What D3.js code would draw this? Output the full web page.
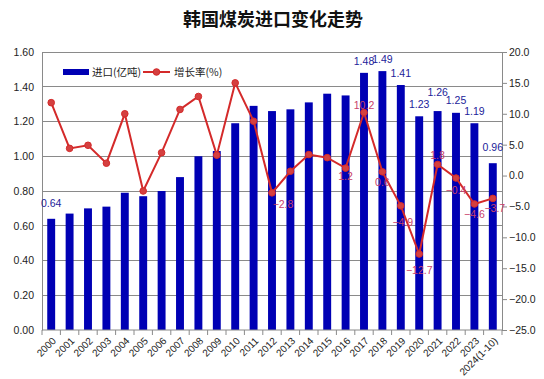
<!DOCTYPE html>
<html><head><meta charset="utf-8">
<script src="https://cdn.jsdelivr.net/npm/d3@7"></script>
<style>body{margin:0;background:#fff}svg{display:block}</style>
</head><body>
<script>
const categories = ["2000","2001","2002","2003","2004","2005","2006","2007","2008","2009","2010","2011","2012","2013","2014","2015","2016","2017","2018","2019","2020","2021","2022","2023","2024(1-10)"];
const imports = [0.64,0.67,0.70,0.71,0.79,0.77,0.80,0.88,1.00,1.03,1.19,1.29,1.26,1.27,1.31,1.36,1.35,1.48,1.49,1.41,1.23,1.26,1.25,1.19,0.96];
const growth = [11.8,4.4,4.9,2.0,10.0,-2.5,3.7,10.7,12.8,3.3,15.0,8.8,-2.8,0.7,3.4,2.9,1.2,10.2,0.6,-4.9,-12.7,1.8,-0.4,-4.6,-3.7];
const leftTicks = [0,0.2,0.4,0.6,0.8,1.0,1.2,1.4,1.6];
const rightTicks = [-25,-20,-15,-10,-5,0,5,10,15,20];
const barLabelIdx = [0,17,18,19,20,21,22,23,24];
const lineLabelIdx = [12,16,17,18,19,20,21,22,23,24];
const seriesNames = ["进口(亿吨)","增长率(%)"];
const title = "韩国煤炭进口变化走势";

const W=544,H=379, L=42,R=502,T=52,B=330;
const barColor="#0000b4", lineColor="#d42a2a";
const svg=d3.select("body").append("svg").attr("width",W).attr("height",H);
const font="Liberation Sans, Arial, sans-serif";
const cjk="'Noto Sans CJK SC', sans-serif";

const x=d3.scaleBand().domain(categories).range([L,R]).padding(0);
const yL=d3.scaleLinear().domain([0,1.6]).range([B,T]);
const yR=d3.scaleLinear().domain([-25,20]).range([B,T]);

// title
svg.append("text").attr("x",273).attr("y",26).attr("text-anchor","middle")
  .attr("font-family",cjk).attr("font-weight","bold").attr("font-size",18).attr("fill","#111").text(title);

// gridlines
svg.append("g").selectAll("line").data(leftTicks.filter(d=>d>0)).join("line")
  .attr("x1",L).attr("x2",R).attr("y1",d=>yL(d)).attr("y2",d=>yL(d))
  .attr("stroke","#8a8a8a").attr("stroke-width",1).attr("shape-rendering","crispEdges");

// bars
const bw = x.bandwidth()*0.43;
svg.append("g").selectAll("rect").data(imports).join("rect")
  .attr("x",(d,i)=>x(categories[i])+x.bandwidth()/2-bw/2)
  .attr("width",bw)
  .attr("y",d=>yL(d)).attr("height",d=>B-yL(d))
  .attr("fill",barColor);

// left axis
const gl=svg.append("g").attr("transform",`translate(${L},0)`)
  .call(d3.axisLeft(yL).tickValues(leftTicks).tickFormat(d3.format(".2f")).tickSize(0).tickPadding(8));
gl.select(".domain").attr("stroke","#8a8a8a");
gl.selectAll("text").attr("font-family",font).attr("font-size",10.5).attr("fill","#222");

// right axis
const gr=svg.append("g").attr("transform",`translate(${R},0)`)
  .call(d3.axisRight(yR).tickValues(rightTicks).tickFormat(d3.format(".1f")).tickSize(5).tickPadding(2));
gr.select(".domain").attr("stroke","#8a8a8a");
gr.selectAll(".tick line").attr("stroke","#8a8a8a");
gr.selectAll("text").attr("font-family",font).attr("font-size",10.5).attr("fill","#222");

// x axis
const gx=svg.append("g").attr("transform",`translate(0,${B})`);
gx.append("line").attr("x1",L).attr("x2",R).attr("y1",0).attr("y2",0).attr("stroke","#8a8a8a");
gx.selectAll(".tk").data(categories.concat(["_end"])).join("line")
  .attr("x1",(d,i)=>L+i*x.bandwidth()).attr("x2",(d,i)=>L+i*x.bandwidth())
  .attr("y1",0).attr("y2",5).attr("stroke","#8a8a8a");
gx.selectAll("text").data(categories).join("text")
  .attr("transform",d=>`translate(${x(d)+x.bandwidth()/2+3},${9}) rotate(-45)`)
  .attr("text-anchor","end").attr("dy","0.35em")
  .attr("font-family",font).attr("font-size",10).attr("fill","#222").text(d=>d);

// line
const line=d3.line().x((d,i)=>x(categories[i])+x.bandwidth()/2).y(d=>yR(d));
svg.append("path").datum(growth).attr("d",line).attr("fill","none")
  .attr("stroke",lineColor).attr("stroke-width",2);
svg.append("g").selectAll("circle").data(growth).join("circle")
  .attr("cx",(d,i)=>x(categories[i])+x.bandwidth()/2).attr("cy",d=>yR(d)).attr("r",3.3)
  .attr("fill","#d44040").attr("stroke",lineColor).attr("stroke-width",1);

// bar labels
const barDy={0:-15,21:-19,24:-16};
svg.append("g").selectAll("text").data(barLabelIdx).join("text")
  .attr("x",i=>x(categories[i])+x.bandwidth()/2)
  .attr("y",i=>yL(imports[i])+(barDy[i]??-12)).attr("dy","0.35em")
  .attr("text-anchor","middle").attr("font-family",font).attr("font-size",10.5).attr("fill","#1c1c9a")
  .text(i=>d3.format(".2f")(imports[i]));

// line labels
const lineOff={12:[11,11],16:[0,8],17:[0,-7],18:[0,10],19:[2,16],20:[0,16],21:[0,-9],22:[0,12],23:[0,10],24:[2,10]};
svg.append("g").selectAll("text").data(lineLabelIdx).join("text")
  .attr("x",i=>x(categories[i])+x.bandwidth()/2+lineOff[i][0])
  .attr("y",i=>yR(growth[i])+lineOff[i][1]).attr("dy","0.35em")
  .attr("text-anchor","middle").attr("font-family",font).attr("font-size",10.5).attr("fill","#c8406a")
  .text(i=>d3.format(".1f")(growth[i]));

// legend
const lg=svg.append("g");
lg.append("rect").attr("x",63).attr("y",69).attr("width",26).attr("height",6).attr("fill",barColor);
lg.append("text").attr("x",92).attr("y",72).attr("dy","0.35em").attr("font-family",cjk).attr("font-size",10.5).attr("fill","#222").text(seriesNames[0]);
lg.append("line").attr("x1",143).attr("x2",170).attr("y1",72).attr("y2",72).attr("stroke",lineColor).attr("stroke-width",2);
lg.append("circle").attr("cx",156.5).attr("cy",72).attr("r",3.3).attr("fill","#d44040").attr("stroke",lineColor);
lg.append("text").attr("x",174).attr("y",72).attr("dy","0.35em").attr("font-family",cjk).attr("font-size",10.5).attr("fill","#222").text(seriesNames[1]);
</script>
</body></html>
